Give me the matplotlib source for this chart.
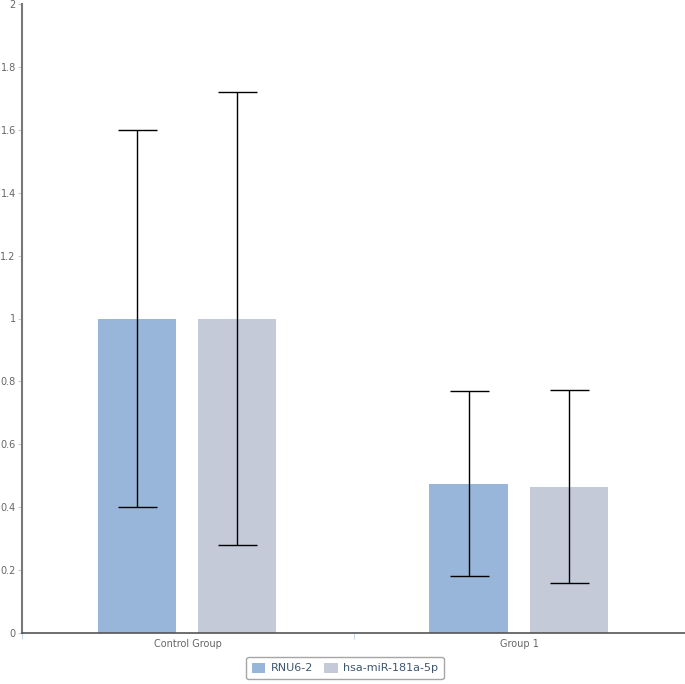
import numpy as np
import matplotlib.pyplot as plt

categories = ['Control Group', 'Group 1']
series = ['RNU6-2', 'hsa-miR-181a-5p']
means = [[1.0, 0.474], [1.0, 0.464]]
upper = [[1.6, 0.769], [1.72, 0.773]]
lower = [[0.40, 0.181], [0.28, 0.159]]
colors = ['#98b6d9', '#c5cad9']

fig = plt.figure(figsize=(6.85, 6.84), dpi=100)
ax = fig.add_axes([22/685, 51/684, 663/685, 629/684])

x = np.arange(len(categories))
width = 0.236
offsets = [-0.153, 0.149]
for i in range(len(series)):
    m = np.array(means[i])
    err = [m - np.array(lower[i]), np.array(upper[i]) - m]
    ax.bar(x + offsets[i], m, width, color=colors[i], label=series[i], zorder=2)
    ax.errorbar(x + offsets[i], m, yerr=err, fmt='none', ecolor='black',
                elinewidth=1, capsize=19.5 * 0.72, capthick=1, zorder=3)

ax.set_xlim(-0.5, 1.5)
ax.set_ylim(0, 2)
ax.set_yticks(np.arange(0, 2.01, 0.2))
ax.set_yticklabels(['0', '0.2', '0.4', '0.6', '0.8', '1', '1.2', '1.4', '1.6', '1.8', '2'])
ax.set_xticks([-0.5, 0.5, 1.5], minor=True)
ax.set_xticks(x)
ax.set_xticklabels(categories)
ax.tick_params(axis='x', which='major', length=0, labelsize=7, labelcolor='#666666', pad=4)
ax.tick_params(axis='x', which='minor', length=4, color='#c0d0e0', direction='out')
ax.tick_params(axis='y', length=3, color='#c0d0e0', labelsize=7, labelcolor='#666666', pad=1.5)

for s in ['top', 'right']:
    ax.spines[s].set_visible(False)
ax.spines['left'].set_color('#777777')
ax.spines['left'].set_linewidth(1.5)
ax.spines['bottom'].set_color('#555555')
ax.spines['bottom'].set_linewidth(1.2)

leg = fig.legend(loc='center', bbox_to_anchor=(345/685, 1 - 668/684), ncol=2,
                 fontsize=8, frameon=True, fancybox=True, handlelength=1.2,
                 handleheight=1.0, columnspacing=1.0, handletextpad=0.5,
                 borderpad=0.5)
leg.get_frame().set_edgecolor('#909090')
leg.get_frame().set_linewidth(1)
for t in leg.get_texts():
    t.set_color('#3e576f')

fig.savefig('out.png')
